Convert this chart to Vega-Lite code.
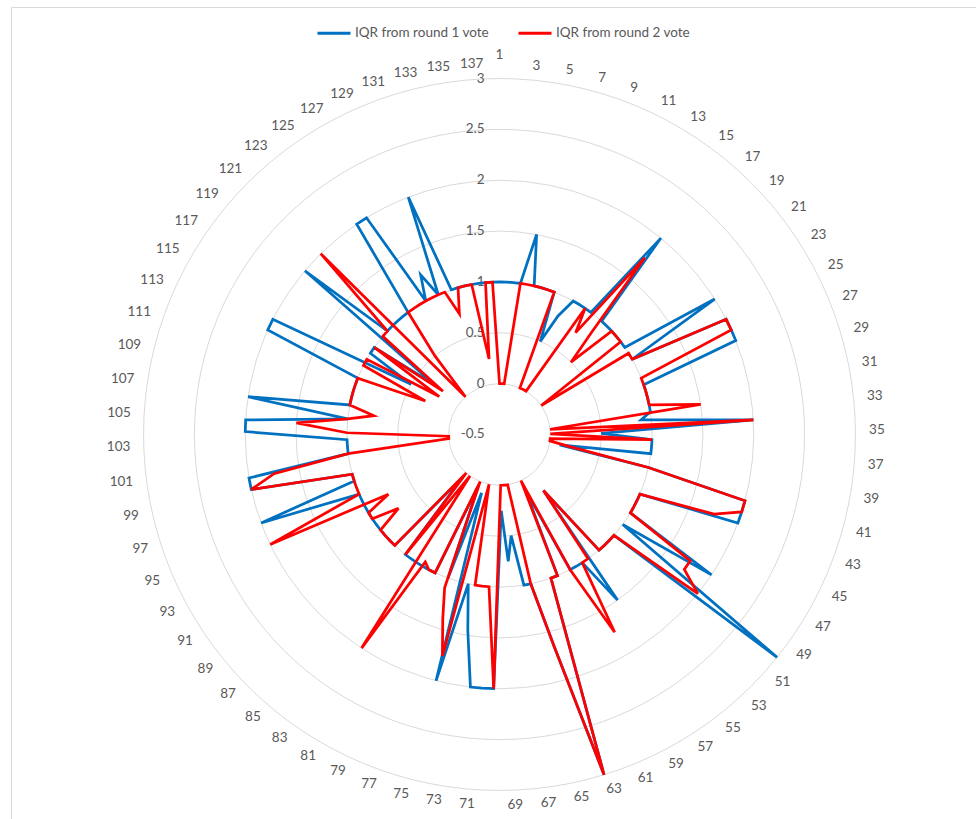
{
  "$schema": "https://vega.github.io/schema/vega-lite/v6.json",
  "width": 965,
  "height": 812,
  "padding": {"left": 11, "top": 7, "right": 0, "bottom": 0},
  "autosize": {"type": "none"},
  "background": "white",
  "config": {"view": {"stroke": null}, "font": "Lato"},
  "datasets": {
    "rings": [{"v": -0.5}, {"v": 0}, {"v": 0.5}, {"v": 1}, {"v": 1.5}, {"v": 2}, {"v": 2.5}, {"v": 3}],
    "iqr": [
      {"k":1,"b":1,"r":0},{"k":2,"b":1,"r":0},{"k":3,"b":1,"r":0},{"k":4,"b":1,"r":1},{"k":5,"b":1.5,"r":1},
      {"k":6,"b":1,"r":1},{"k":7,"b":1,"r":1},{"k":8,"b":1,"r":1},{"k":9,"b":1,"r":1},{"k":10,"b":0.5,"r":0},
      {"k":11,"b":0.8,"r":0},{"k":12,"b":1,"r":0},{"k":13,"b":1,"r":0},{"k":14,"b":1,"r":1},{"k":15,"b":1,"r":0.75},
      {"k":16,"b":2,"r":1.75},{"k":17,"b":1,"r":0.85},{"k":18,"b":1,"r":0.5},{"k":19,"b":1,"r":1},{"k":20,"b":1,"r":1},
      {"k":21,"b":1,"r":1},{"k":22,"b":1,"r":0},{"k":23,"b":2,"r":1},{"k":24,"b":1,"r":1},{"k":25,"b":2,"r":2},
      {"k":26,"b":2,"r":2},{"k":27,"b":2,"r":1},{"k":28,"b":1,"r":1},{"k":29,"b":1,"r":1},{"k":30,"b":1,"r":1},
      {"k":31,"b":1,"r":1},{"k":32,"b":1,"r":1.5},{"k":33,"b":0.9,"r":0},{"k":34,"b":2,"r":2},{"k":35,"b":0.5,"r":0},
      {"k":36,"b":1,"r":1},{"k":37,"b":1,"r":0},{"k":38,"b":1,"r":0},{"k":39,"b":0.1,"r":0.2},{"k":40,"b":1,"r":1},
      {"k":41,"b":2,"r":2},{"k":42,"b":2,"r":2},{"k":43,"b":2,"r":1.75},{"k":44,"b":1,"r":1},{"k":45,"b":1,"r":1},
      {"k":46,"b":1,"r":1},{"k":47,"b":1,"r":1},{"k":48,"b":2,"r":1.75},{"k":49,"b":1,"r":1.75},{"k":50,"b":3,"r":2},
      {"k":51,"b":1,"r":1},{"k":52,"b":1,"r":1},{"k":53,"b":1,"r":1},{"k":54,"b":1,"r":1},{"k":55,"b":0.2,"r":0.2},
      {"k":56,"b":1.5,"r":1},{"k":57,"b":1,"r":1},{"k":58,"b":1,"r":1.75},{"k":59,"b":1,"r":1},{"k":60,"b":0.1,"r":0},
      {"k":61,"b":1,"r":1},{"k":62,"b":1,"r":1},{"k":63,"b":3,"r":3},{"k":64,"b":1.65,"r":1.65},{"k":65,"b":1,"r":1},
      {"k":66,"b":1,"r":0},{"k":67,"b":0.5,"r":0},{"k":68,"b":0.75,"r":0},{"k":69,"b":0.25,"r":0},{"k":70,"b":2,"r":2},
      {"k":71,"b":2,"r":1},{"k":72,"b":2,"r":1},{"k":73,"b":1.45,"r":1},{"k":74,"b":1,"r":0},{"k":75,"b":2,"r":1.75},
      {"k":76,"b":0.1,"r":1.4},{"k":77,"b":1,"r":1.1},{"k":78,"b":0.05,"r":0},{"k":79,"b":1,"r":1},{"k":80,"b":1,"r":1},
      {"k":81,"b":1,"r":0.95},{"k":82,"b":1,"r":2},{"k":83,"b":1,"r":0},{"k":84,"b":1,"r":1},{"k":85,"b":0.05,"r":0},
      {"k":86,"b":1,"r":1},{"k":87,"b":1,"r":1},{"k":88,"b":1,"r":1},{"k":89,"b":1,"r":1},{"k":90,"b":1,"r":0.73},
      {"k":91,"b":1,"r":1},{"k":92,"b":1,"r":1},{"k":93,"b":1,"r":0.74},{"k":94,"b":1,"r":2},{"k":95,"b":1,"r":1},
      {"k":96,"b":2,"r":1},{"k":97,"b":1,"r":1},{"k":98,"b":1,"r":1},{"k":99,"b":2,"r":2},{"k":100,"b":2,"r":1.75},
      {"k":101,"b":1,"r":1},{"k":102,"b":1,"r":0},{"k":103,"b":1,"r":0},{"k":104,"b":2,"r":1},{"k":105,"b":2,"r":1.5},
      {"k":106,"b":1,"r":1},{"k":107,"b":2,"r":0.75},{"k":108,"b":1,"r":1},{"k":109,"b":1,"r":1},{"k":110,"b":1,"r":1},
      {"k":111,"b":1,"r":1},{"k":112,"b":1,"r":1},{"k":113,"b":2,"r":0.3},{"k":114,"b":2,"r":1},{"k":115,"b":0.5,"r":1},
      {"k":116,"b":1,"r":0.2},{"k":117,"b":1,"r":1},{"k":118,"b":0.3,"r":0.2},{"k":119,"b":2,"r":1},{"k":120,"b":1,"r":1},
      {"k":121,"b":1,"r":2},{"k":122,"b":1,"r":0},{"k":123,"b":1,"r":0.5},{"k":124,"b":1,"r":1},{"k":125,"b":2,"r":1},
      {"k":126,"b":2,"r":1},{"k":127,"b":1,"r":1},{"k":128,"b":1.25,"r":1},{"k":129,"b":1,"r":1},{"k":130,"b":2,"r":1},
      {"k":131,"b":1,"r":0.75},{"k":132,"b":1,"r":1},{"k":133,"b":1,"r":1},{"k":134,"b":1,"r":1},{"k":135,"b":1,"r":0.25},
      {"k":136,"b":1,"r":1},{"k":137,"b":1,"r":1}
    ]
  },
  "layer": [
    {
      "data": {"name": "rings"},
      "transform": [{"filter": "datum.v > -0.5"}, {"calculate": "datum.v + 0.5", "as": "rr"}],
      "mark": {"type": "point", "filled": false, "stroke": "#D9D9D9", "strokeWidth": 1, "opacity": 1},
      "encoding": {
        "x": {"datum": 0, "type": "quantitative", "scale": {"domain": [-4.8033, 4.6853], "nice": false, "zero": false}, "axis": {"orient": "top", "labels": false, "ticks": false, "grid": false, "domainColor": "#D9D9D9", "title": null}},
        "y": {"datum": 0, "type": "quantitative", "scale": {"domain": [-3.7807, 4.2035], "nice": false, "zero": false}, "axis": {"orient": "left", "labels": false, "ticks": false, "grid": false, "domainColor": "#D9D9D9", "title": null}},
        "size": {"field": "rr", "type": "quantitative", "scale": {"type": "pow", "exponent": 2, "domain": [0, 3.5], "range": [0, 506801]}, "legend": null}
      }
    },
    {
      "data": {"name": "rings"},
      "transform": [{"calculate": "datum.v + 0.5", "as": "rr"}, {"calculate": "toString(datum.v)", "as": "lbl"}],
      "mark": {"type": "text", "align": "right", "baseline": "middle", "dx": -15, "fontSize": 13.5, "color": "#595959"},
      "encoding": {
        "x": {"datum": 0, "type": "quantitative"},
        "y": {"field": "rr", "type": "quantitative"},
        "text": {"field": "lbl", "type": "nominal"}
      }
    },
    {
      "data": {"name": "iqr"},
      "transform": [
        {"filter": "datum.k % 2 == 1"},
        {"calculate": "(datum.k - 1) * 2 * PI / 137", "as": "a"},
        {"calculate": "sin(datum.a)", "as": "sn"},
        {"calculate": "cos(datum.a)", "as": "cs"},
        {"calculate": "toString(datum.k)", "as": "lbl"},
        {"calculate": "abs(datum.sn) < 0.02 ? 0 : (datum.sn > 0 ? 1 : -1)", "as": "sg"},
        {"calculate": "(364 + 6 * datum.sn * datum.sn) / 101.7", "as": "r0"},
        {"calculate": "datum.r0 * datum.sn + datum.sg * length(datum.lbl) * 3.7 / 101.7", "as": "lx"},
        {"calculate": "datum.r0 * datum.cs + (datum.sg == 0 ? 15.5 : 6.5) * datum.cs / 101.7", "as": "ly"}
      ],
      "mark": {"type": "text", "align": "center", "baseline": "middle", "fontSize": 13.5, "color": "#595959"},
      "encoding": {
        "x": {"field": "lx", "type": "quantitative"},
        "y": {"field": "ly", "type": "quantitative"},
        "text": {"field": "lbl", "type": "nominal"}
      }
    },
    {
      "data": {"name": "iqr"},
      "transform": [
        {"fold": ["b", "r"], "as": ["s", "v"]},
        {"calculate": "(datum.k - 1) * 2 * PI / 137", "as": "a"},
        {"calculate": "datum.v + 0.5", "as": "rr"},
        {"calculate": "datum.rr * sin(datum.a)", "as": "x"},
        {"calculate": "datum.rr * cos(datum.a)", "as": "y"}
      ],
      "mark": {"type": "line", "interpolate": "linear-closed", "strokeWidth": 2.75, "strokeJoin": "miter"},
      "encoding": {
        "x": {"field": "x", "type": "quantitative"},
        "y": {"field": "y", "type": "quantitative"},
        "order": {"field": "k", "type": "quantitative"},
        "color": {
          "field": "s", "type": "nominal",
          "scale": {"domain": ["b", "r"], "range": ["#0070C0", "#FF0000"]},
          "legend": {
            "orient": "none", "legendX": 305, "legendY": 8, "direction": "horizontal", "title": null,
            "labelExpr": "datum.label == 'b' ? 'IQR from round 1 vote' : 'IQR from round 2 vote'",
            "symbolType": "stroke", "symbolSize": 1089, "symbolStrokeWidth": 3,
            "labelFontSize": 13.5, "labelColor": "#595959", "labelOffset": 3, "columnPadding": 23, "padding": 0
          }
        }
      }
    }
  ]
}
